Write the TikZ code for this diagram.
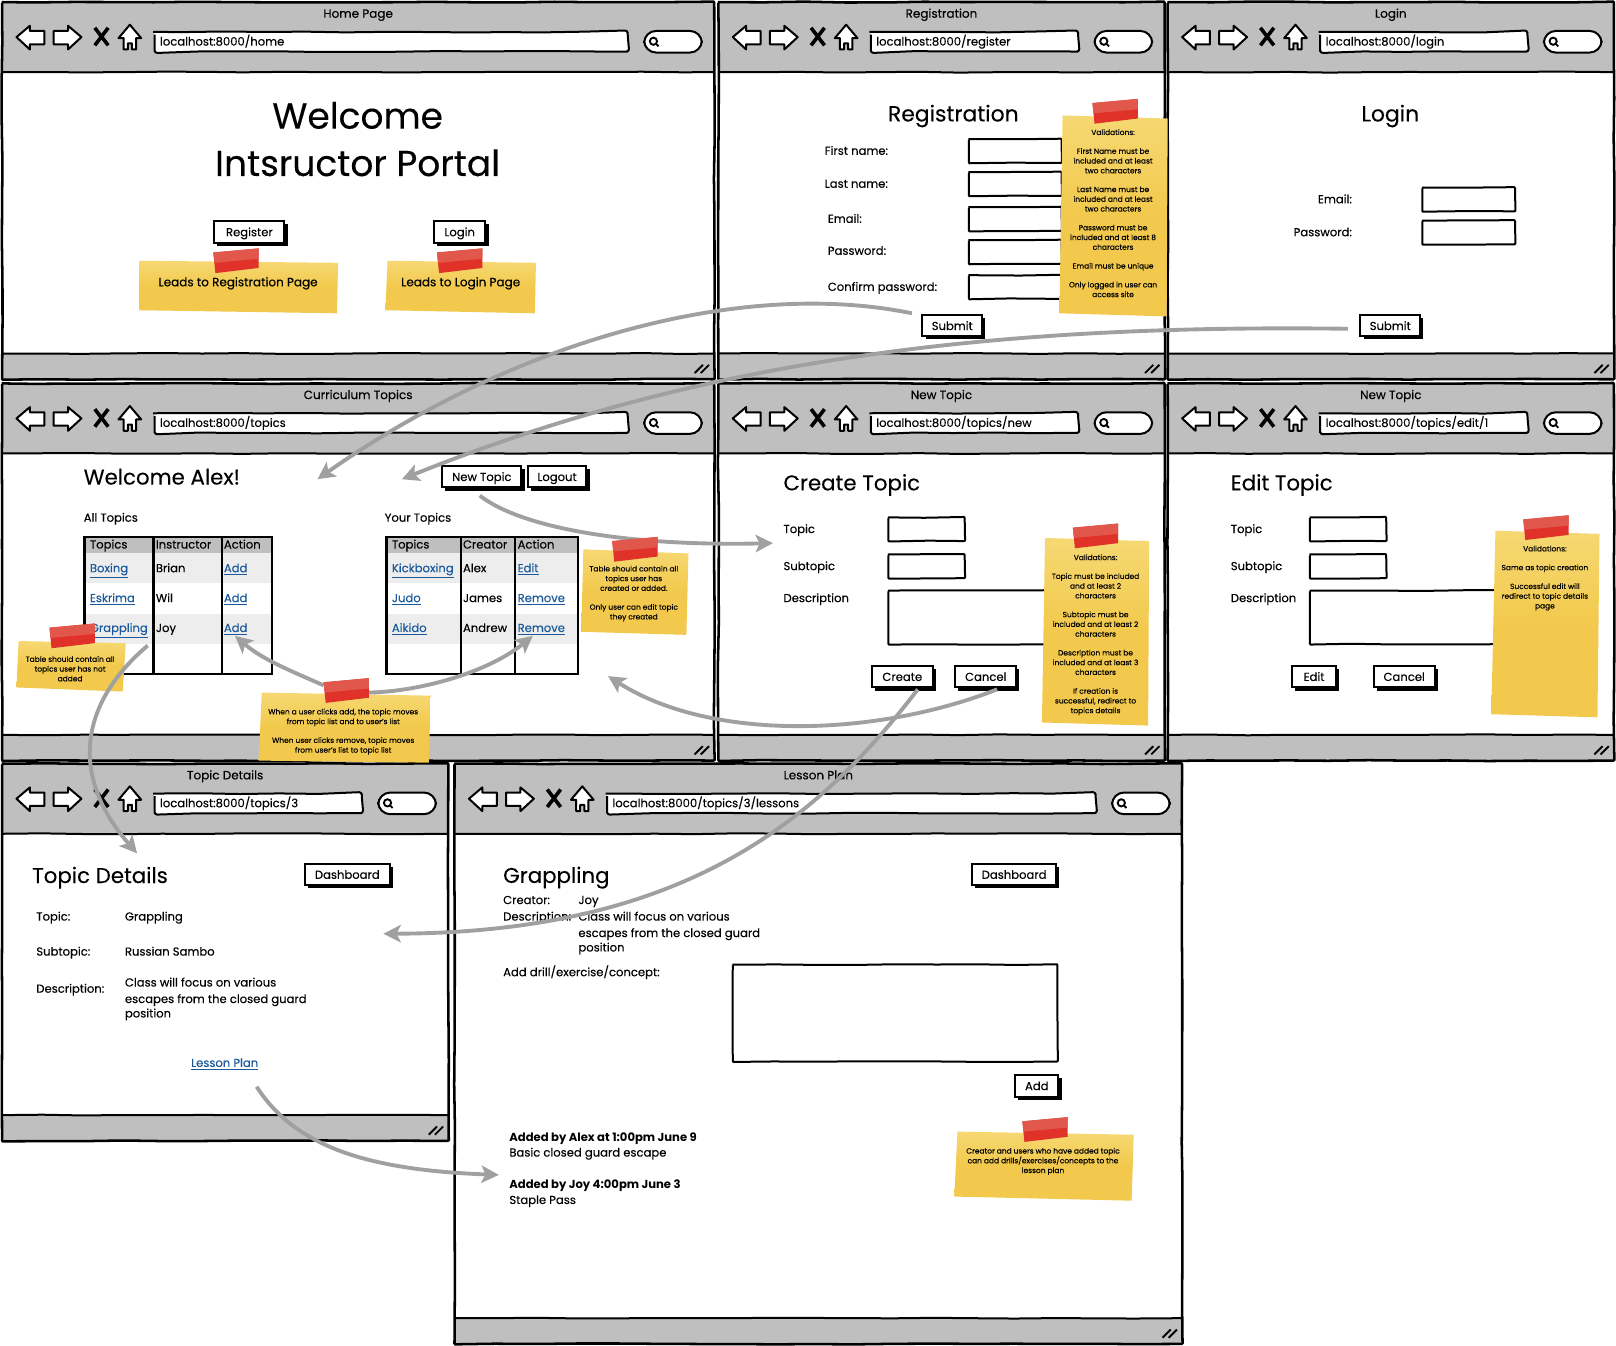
\documentclass[tikz,border=0pt]{standalone}
\usepackage{fontspec}
\setmainfont{Poppins}[UprightFeatures={FakeBold=0.15}]
\usetikzlibrary{arrows.meta,decorations.pathmorphing}
\definecolor{chrome}{HTML}{BFBFBF}
\definecolor{linkblue}{HTML}{1A5A9C}
\definecolor{rowgray}{HTML}{EDEDED}
\definecolor{noteyellow}{HTML}{F2C94C}
\definecolor{notelight}{HTML}{F6D873}
\definecolor{tapered}{HTML}{E03228}
\definecolor{tapelight}{HTML}{E2574C}
\definecolor{flow}{HTML}{A0A0A0}
\newcommand{\fsbody}{\fontsize{8.7}{12}\selectfont}
\newcommand{\fshead}{\fontsize{16}{20}\selectfont}
\newcommand{\fsnote}{\fontsize{5.6}{7.3}\selectfont}
\tikzset{
  x=0.77296pt,y=-0.77296pt,
  sk/.style={line width=1.5pt,black,decorate,decoration={random steps,segment length=30pt,amplitude=.35pt},rounded corners=.6pt},
  txt/.style={inner sep=0pt,text height=8pt,text depth=1.5pt,font=\fsbody},
  lbl/.style={txt,anchor=west},
  lnk/.style={txt,text=linkblue},
  head/.style={inner sep=0pt,anchor=west,font=\fshead,yshift=-2pt},
  big/.style={inner sep=0pt,font=\fontsize{27}{34}\selectfont},
  mid/.style={inner sep=0pt,yshift=-2pt,font=\fontsize{16.4}{20}\selectfont},
  snote/.style={inner sep=0pt,align=center,font=\fsnote,yshift=-0.7pt},
  flowline/.style={draw=flow,line width=2.9pt,-{Stealth[length=13pt,width=13pt,inset=3pt]},fill=none},
}
% name, x, y, width, height, title, url
\newcommand{\browser}[7]{%
\begin{scope}[shift={(#2,#3)}]
  \fill[white] (0,0) rectangle (#4,#5);
  \fill[chrome] (0,0) rectangle (#4,68);
  \fill[chrome] (0,{#5-25}) rectangle (#4,#5);
  \draw[sk] (0,68) -- (#4,68);
  \draw[sk] (0,{#5-25}) -- (#4,{#5-25});
  \draw[sk,line width=1.9pt] (0,0) rectangle (#4,#5);
  \node[txt,font=\fontsize{9}{12}\selectfont] (#1title) at ({#4/2},11) {#6};
  % back, forward, stop, home
  \draw[line width=1.5pt,fill=white,line join=round] (14,34) -- (27,23) -- (27,28) -- (41,28) -- (41,41) -- (27,41) -- (27,46) -- cycle;
  \draw[line width=1.5pt,fill=white,line join=round] (77,34) -- (64,23) -- (64,28) -- (50,28) -- (50,41) -- (64,41) -- (64,46) -- cycle;
  \draw[line width=2.7pt] (90,25) -- (103,42) (103,25) -- (90,42);
  \draw[line width=1.5pt,fill=white,line join=round] (124,22) -- (135,35) -- (130,35) -- (130,46) -- (126,46) -- (126,40) -- (122,40) -- (122,46) -- (118,46) -- (118,35) -- (113,35) -- cycle;
  % address bar and search
  \draw[sk,fill=white,rounded corners=2pt] (148,29) rectangle ({#4-84},48);
  \node[lbl] (#1url) at (153,38) {#7};
  \draw[line width=1.5pt,fill=white,rounded corners=9pt] ({#4-68},28) rectangle ({#4-12},49);
  \draw[line width=1.4pt] ({#4-59},38) circle (3.5);
  \draw[line width=1.4pt] ({#4-57},40) -- ({#4-54},43);
  % resize grip
  \draw[line width=1.4pt] ({#4-19},{#5-6}) -- ({#4-11},{#5-14}) ({#4-13},{#5-6}) -- ({#4-5},{#5-14});
\end{scope}}
\newcommand{\field}[4]{\draw[sk,fill=white] (#1,#2) rectangle (#3,#4);}
\newcommand{\btn}[6]{%
  \fill[black] ({#2+3},{#3+3}) rectangle ({#4+3},{#5+3});
  \draw[line width=1.5pt,fill=white] (#2,#3) rectangle (#4,#5);
  \node[txt] (#1) at ({(#2+#4)/2},{(#3+#5)/2}) {#6};}
% name, four corners, text centre, text
\newcommand{\sticky}[7]{%
  \shade[top color=notelight,bottom color=noteyellow,middle color=noteyellow] (#2) -- (#3) -- (#4) -- (#5) -- cycle;
  \node[snote] (#1) at (#6) {#7};}
\newcommand{\tapeat}[2]{%
  \fill[tapered] (#1,{#2+4}) -- ({#1+44},#2) -- ({#1+44},{#2+19}) -- ({#1+2},{#2+24}) -- cycle;
  \fill[tapelight] (#1,{#2+4}) -- ({#1+44},#2) -- ({#1+44},{#2+10}) -- ({#1+1},{#2+14}) -- cycle;}
\begin{document}
\begin{tikzpicture}
\pgfmathsetseed{7}
\useasboundingbox (0,0) rectangle (1568,1306);
\fill[white] (0,0) rectangle (1568,1306);

\browser{home}{2}{2}{691}{366}{Home Page}{localhost:8000/home}
\browser{reg}{697}{2}{433}{366}{Registration}{localhost:8000/register}
\browser{login}{1133}{2}{433}{366}{Login}{localhost:8000/login}
\browser{cur}{2}{372}{691}{366}{Curriculum Topics}{localhost:8000/topics}
\browser{newt}{697}{372}{433}{366}{New Topic}{localhost:8000/topics/new}
\browser{editt}{1133}{372}{433}{366}{New Topic}{localhost:8000/topics/edit/1}
\browser{det}{2}{741}{433}{366}{Topic Details}{localhost:8000/topics/3}
\browser{les}{441}{741}{706}{563}{Lesson Plan}{localhost:8000/topics/3/lessons}

% Home
\node[big] (hw) at (347,112) {Welcome};
\node[big] (hi) at (347,158) {Intsructor Portal};
\btn{bReg}{208}{214}{276}{236}{Register}
\btn{bLog}{421}{214}{471}{236}{Login}
\sticky{n1}{135,253}{328,255}{327,304}{135,301}{231,274}{\fontsize{9}{11}\selectfont Leads to Registration Page}
\sticky{n2}{376,253}{520,255}{519,304}{374,301}{447,274}{\fontsize{9}{11}\selectfont Leads to Login Page}

% Registration
\node[mid] (regh) at (925,110) {Registration};
\node[lbl] (l1) at (800,146) {First name:};
\node[lbl] (l2) at (800,178) {Last name:};
\node[lbl] (l3) at (803,212) {Email:};
\node[lbl] (l4) at (803,243) {Password:};
\node[lbl] (l5) at (803,278) {Confirm password:};
\field{940}{135}{1030}{158}
\field{940}{167}{1030}{190}
\field{940}{201}{1030}{224}
\field{940}{233}{1030}{256}
\field{940}{267}{1030}{290}
\btn{bSub1}{895}{306}{953}{326}{Submit}
\sticky{n3}{1031,112}{1133,115}{1132,307}{1028,304}{1080,206}{Validations:\\[6.8pt]First Name must be\\included and at least\\two characters\\[6.8pt]Last Name must be\\included and at least\\two characters\\[6.8pt]Password must be\\included and at least 8\\characters\\[6.8pt]Email must be unique\\[6.8pt]Only logged in user can\\access site}

% Login
\node[mid] (logh) at (1349,110) {Login};
\node[txt,anchor=east] (l6) at (1312,193) {Email:};
\node[txt,anchor=east] (l7) at (1312,225) {Password:};
\field{1380}{182}{1470}{205}
\field{1380}{214}{1470}{237}
\btn{bSub2}{1320}{306}{1378}{326}{Submit}

% Curriculum
\node[head] (wa) at (81,460) {Welcome Alex!};
\node[lbl] (at) at (81,502) {All Topics};
\node[lbl] (yt) at (373,502) {Your Topics};
\btn{bNew}{429}{452}{506}{473}{New Topic}
\btn{bOut}{512}{452}{569}{473}{Logout}
% left table
\fill[chrome] (82,521) rectangle (264,537);
\fill[rowgray] (82,537) rectangle (264,566);
\fill[rowgray] (82,596) rectangle (264,625);
\draw[line width=1.6pt] (82,521) rectangle (264,654) (149,521) -- (149,654) (215,521) -- (215,654);
\node[lbl] (t11) at (87,528) {Topics};
\node[lbl] (t12) at (151,528) {Instructor};
\node[lbl] (t13) at (217,528) {Action};
\node[lnk,anchor=west] (t21) at (87,551) {\underline{Boxing}};
\node[lbl] (t22) at (151,551) {Brian};
\node[lnk,anchor=west] (t23) at (217,551) {\underline{Add}};
\node[lnk,anchor=west] (t31) at (87,580) {\underline{Eskrima}};
\node[lbl] (t32) at (151,580) {Wil};
\node[lnk,anchor=west] (t33) at (217,580) {\underline{Add}};
\node[lnk,anchor=west] (t41) at (87,609) {\underline{Grappling}};
\node[lbl] (t42) at (151,609) {Joy};
\node[lnk,anchor=west] (t43) at (217,609) {\underline{Add}};
% right table
\fill[chrome] (375,521) rectangle (561,537);
\fill[rowgray] (375,537) rectangle (561,566);
\fill[rowgray] (375,596) rectangle (561,625);
\draw[line width=1.6pt] (375,521) rectangle (561,654) (447,521) -- (447,654) (500,521) -- (500,654);
\node[lbl] (u11) at (380,528) {Topics};
\node[lbl] (u12) at (449,528) {Creator};
\node[lbl] (u13) at (502,528) {Action};
\node[lnk,anchor=west] (u21) at (380,551) {\underline{Kickboxing}};
\node[lbl] (u22) at (449,551) {Alex};
\node[lnk,anchor=west] (u23) at (502,551) {\underline{Edit}};
\node[lnk,anchor=west] (u31) at (380,580) {\underline{Judo}};
\node[lbl] (u32) at (449,580) {James};
\node[lnk,anchor=west] (u33) at (502,580) {\underline{Remove}};
\node[lnk,anchor=west] (u41) at (380,609) {\underline{Aikido}};
\node[lbl] (u42) at (449,609) {Andrew};
\node[lnk,anchor=west] (u43) at (502,609) {\underline{Remove}};
\sticky{n4}{566,533}{668,537}{666,616}{564,613}{615,575}{Table should contain all\\topics user has\\created or added.\\[6.8pt]Only user can edit topic\\they created}
\sticky{n5}{18,622}{122,624}{119,671}{16,667}{68,648}{Table should contain all\\topics user has not\\added}
\sticky{n6}{254,672}{418,675}{416,740}{251,738}{333,709}{When a user clicks add, the topic moves\\from topic list and to user's list\\[6.8pt]When user clicks remove, topic moves\\from user's list to topic list}

% New topic
\node[head] (cth) at (760,468) {Create Topic};
\node[lbl] (c1) at (760,513) {Topic};
\node[lbl] (c2) at (760,549) {Subtopic};
\node[lbl] (c3) at (760,580) {Description};
\field{862}{502}{936}{525}
\field{862}{538}{936}{561}
\field{862}{573}{1030}{625}
\btn{bCre}{846}{646}{905}{667}{Create}
\btn{bCan}{927}{646}{986}{667}{Cancel}
\sticky{n7}{1014,522}{1115,525}{1114,704}{1011,701}{1063,615}{Validations:\\[6.8pt]Topic must be included\\and at least 2\\characters\\[6.8pt]Subtopic must be\\included and at least 2\\characters\\[6.8pt]Description must be\\included and at least 3\\characters\\[6.8pt]If creation is\\successful, redirect to\\topics details}

% Edit topic
\node[head] (eth) at (1194,468) {Edit Topic};
\node[lbl] (e1) at (1194,513) {Topic};
\node[lbl] (e2) at (1194,549) {Subtopic};
\node[lbl] (e3) at (1194,580) {Description};
\field{1271}{502}{1345}{525}
\field{1271}{538}{1345}{561}
\field{1271}{573}{1460}{625}
\btn{bEdi}{1254}{646}{1296}{667}{Edit}
\btn{bCa2}{1333}{646}{1392}{667}{Cancel}
\sticky{n8}{1451,515}{1552,518}{1550,696}{1447,693}{1499,560}{Validations:\\[6.8pt]Same as topic creation\\[6.8pt]Successful edit will\\redirect to topic details\\page}

% Topic details
\node[head] (tdh) at (31,849) {Topic Details};
\btn{bDa1}{296}{838}{378}{859}{Dashboard}
\node[lbl] (d1) at (35,889) {Topic:};
\node[lbl] (d2) at (121,889) {Grappling};
\node[lbl] (d3) at (35,923) {Subtopic:};
\node[lbl] (d4) at (121,923) {Russian Sambo};
\node[lbl] (d5) at (35,959) {Description:};
\node[lbl] (d6) at (121,953) {Class will focus on various};
\node[lbl] (d7) at (121,969) {escapes from the closed guard};
\node[lbl] (d8) at (121,983) {position};
\node[lnk] (dl) at (218,1031) {\underline{Lesson Plan}};

% Lesson plan
\node[head] (lph) at (488,849) {Grappling};
\btn{bDa2}{943}{838}{1025}{859}{Dashboard}
\node[lbl] (p1) at (488,873) {Creator:};
\node[lbl] (p2) at (561,873) {Joy};
\node[lbl] (p3) at (488,889) {Description:};
\node[lbl] (p4) at (561,889) {Class will focus on various};
\node[lbl] (p5) at (561,905) {escapes from the closed guard};
\node[lbl] (p6) at (561,919) {position};
\node[lbl] (p7) at (488,943) {Add drill/exercise/concept:};
\field{711}{936}{1026}{1030}
\btn{bAdd}{985}{1043}{1027}{1064}{Add}
\node[lbl,font=\fsbody\bfseries] (p8) at (494,1103) {Added by Alex at 1:00pm June 9};
\node[lbl] (p9) at (494,1118) {Basic closed guard escape};
\node[lbl,font=\fsbody\bfseries] (p10) at (494,1149) {Added by Joy 4:00pm June 3};
\node[lbl] (p11) at (494,1164) {Staple Pass};
\sticky{n9}{929,1098}{1100,1101}{1098,1165}{926,1161}{1012,1126}{Creator and users who have added topic\\can add drills/exercises/concepts to the\\lesson plan}

% flow arrows
\coordinate (tCur1) at (308,465);
\coordinate (tCur2) at (390,465);
\coordinate (tNew) at (750,527);
\coordinate (tDet) at (133,828);
\coordinate (tLes) at (484,1140);
\coordinate (tAdd) at (228,617);
\coordinate (tRem) at (517,617);
\coordinate (tCan) at (590,656);
\coordinate (tCre) at (372,906);
\coordinate (n6l) at (314,665);
\coordinate (n6r) at (355,672);
\draw[flowline] ([shift={(-19,-12)}]bSub1.west) .. controls (720,270) and (500,330) .. (tCur1);
\draw[flowline] ([shift={(-21,3)}]bSub2.west) .. controls (1000,315) and (700,340) .. (tCur2);
\draw[flowline] ([shift={(-2,12)}]bNew.south) .. controls (510,515) and (620,530) .. (tNew);
\draw[flowline] ([shift={(28,11)}]t41.south) .. controls (80,680) and (65,750) .. (tDet);
\draw[flowline] ([shift={(31,17)}]dl.south) .. controls (285,1110) and (350,1135) .. (tLes);
\draw[flowline] (n6l) .. controls (280,650) and (255,640) .. (tAdd);
\draw[flowline] (n6r) .. controls (400,672) and (470,655) .. (tRem);
\draw[flowline] ([shift={(11,6)}]bCan.south) .. controls (850,715) and (690,720) .. (tCan);
\draw[flowline] ([shift={(15,6)}]bCre.south) .. controls (790,800) and (660,905) .. (tCre);

% tapes
\tapeat{207}{241}
\tapeat{424}{241}
\tapeat{1060}{96}
\tapeat{594}{521}
\tapeat{48}{605}
\tapeat{314}{658}
\tapeat{1041}{508}
\tapeat{1478}{500}
\tapeat{992}{1084}
\end{tikzpicture}
\end{document}
